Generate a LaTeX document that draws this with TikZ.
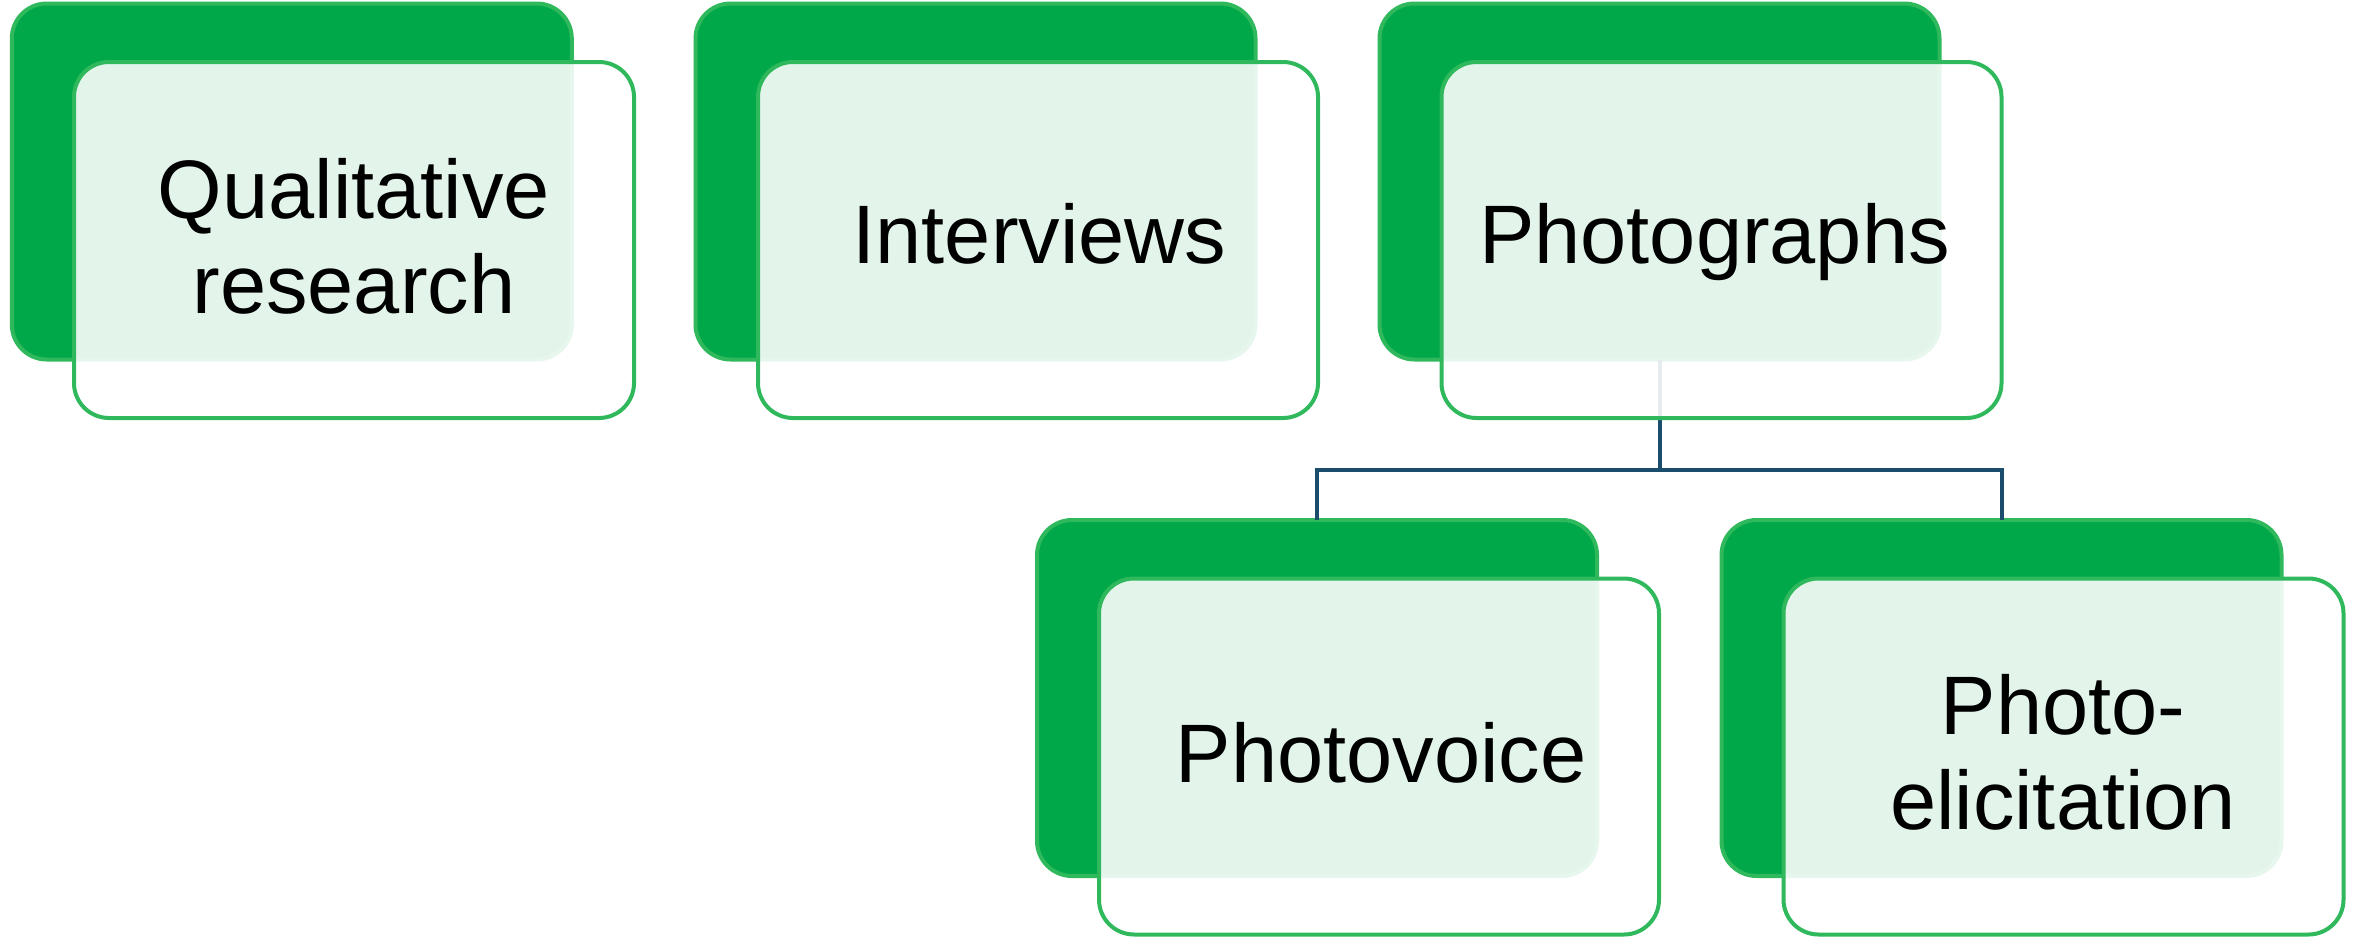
\documentclass[tikz,border=0pt]{standalone}
\usepackage{fontspec}
\setmainfont{Liberation Sans}
\definecolor{dkgreen}{RGB}{0,168,74}
\definecolor{bordergreen}{RGB}{47,184,92}
\definecolor{connblue}{RGB}{26,77,107}
\begin{document}
\begin{tikzpicture}[x=0.5pt,y=-0.5pt,
  backbox/.style={rectangle, rounded corners=17.5pt, fill=dkgreen, draw=bordergreen,
    line width=2pt, minimum width=280pt, minimum height=178pt, inner sep=0pt, outer sep=0pt},
  frontbox/.style={rectangle, rounded corners=17.5pt, fill=white, fill opacity=0.89,
    draw=bordergreen, draw opacity=1, line width=2pt, minimum width=280pt,
    minimum height=178pt, inner sep=0pt, outer sep=0pt},
  lbl/.style={anchor=base, inner sep=0pt, text=black, font=\fontsize{41.5pt}{47.5pt}\selectfont},
  conn/.style={draw=connblue, line width=2pt, line join=miter}]
\useasboundingbox (0,0) rectangle (2359,937);
% back boxes
\node[backbox] (b1) at (291.8,181.5) {};
\node[backbox] (b2) at (975.5,181.5) {};
\node[backbox] (b3) at (1659.5,181.5) {};
\node[backbox] (b4) at (1317,698) {};
\node[backbox] (b5) at (2001.5,698) {};
% connectors
\coordinate (bus) at (1659.5,470);
\draw[conn] (b3.south) -- (b3.south |- bus);
\draw[conn] (b4.north) -- (b4.north |- bus) -- (b5.north |- bus) -- (b5.north);
% front boxes
\node[frontbox] (f1) at (354,240) {};
\node[frontbox] (f2) at (1038,240) {};
\node[frontbox] (f3) at (1721.5,240) {};
\node[frontbox] (f4) at (1379,756.5) {};
\node[frontbox] (f5) at (2063.5,756.5) {};
% labels
\node[lbl] (t1) at (354,218) {\begin{tabular}[t]{@{}c@{}}Qualitative\\research\end{tabular}};
\node[lbl] (t2) at (1039.5,263) {Interviews};
\node[lbl] (t3) at (1714.5,263) {Photographs};
\node[lbl] (t4) at (1381,782) {Photovoice};
\node[lbl] (t5) at (2063,734) {\begin{tabular}[t]{@{}c@{}}Photo-\\elicitation\end{tabular}};
\end{tikzpicture}
\end{document}
